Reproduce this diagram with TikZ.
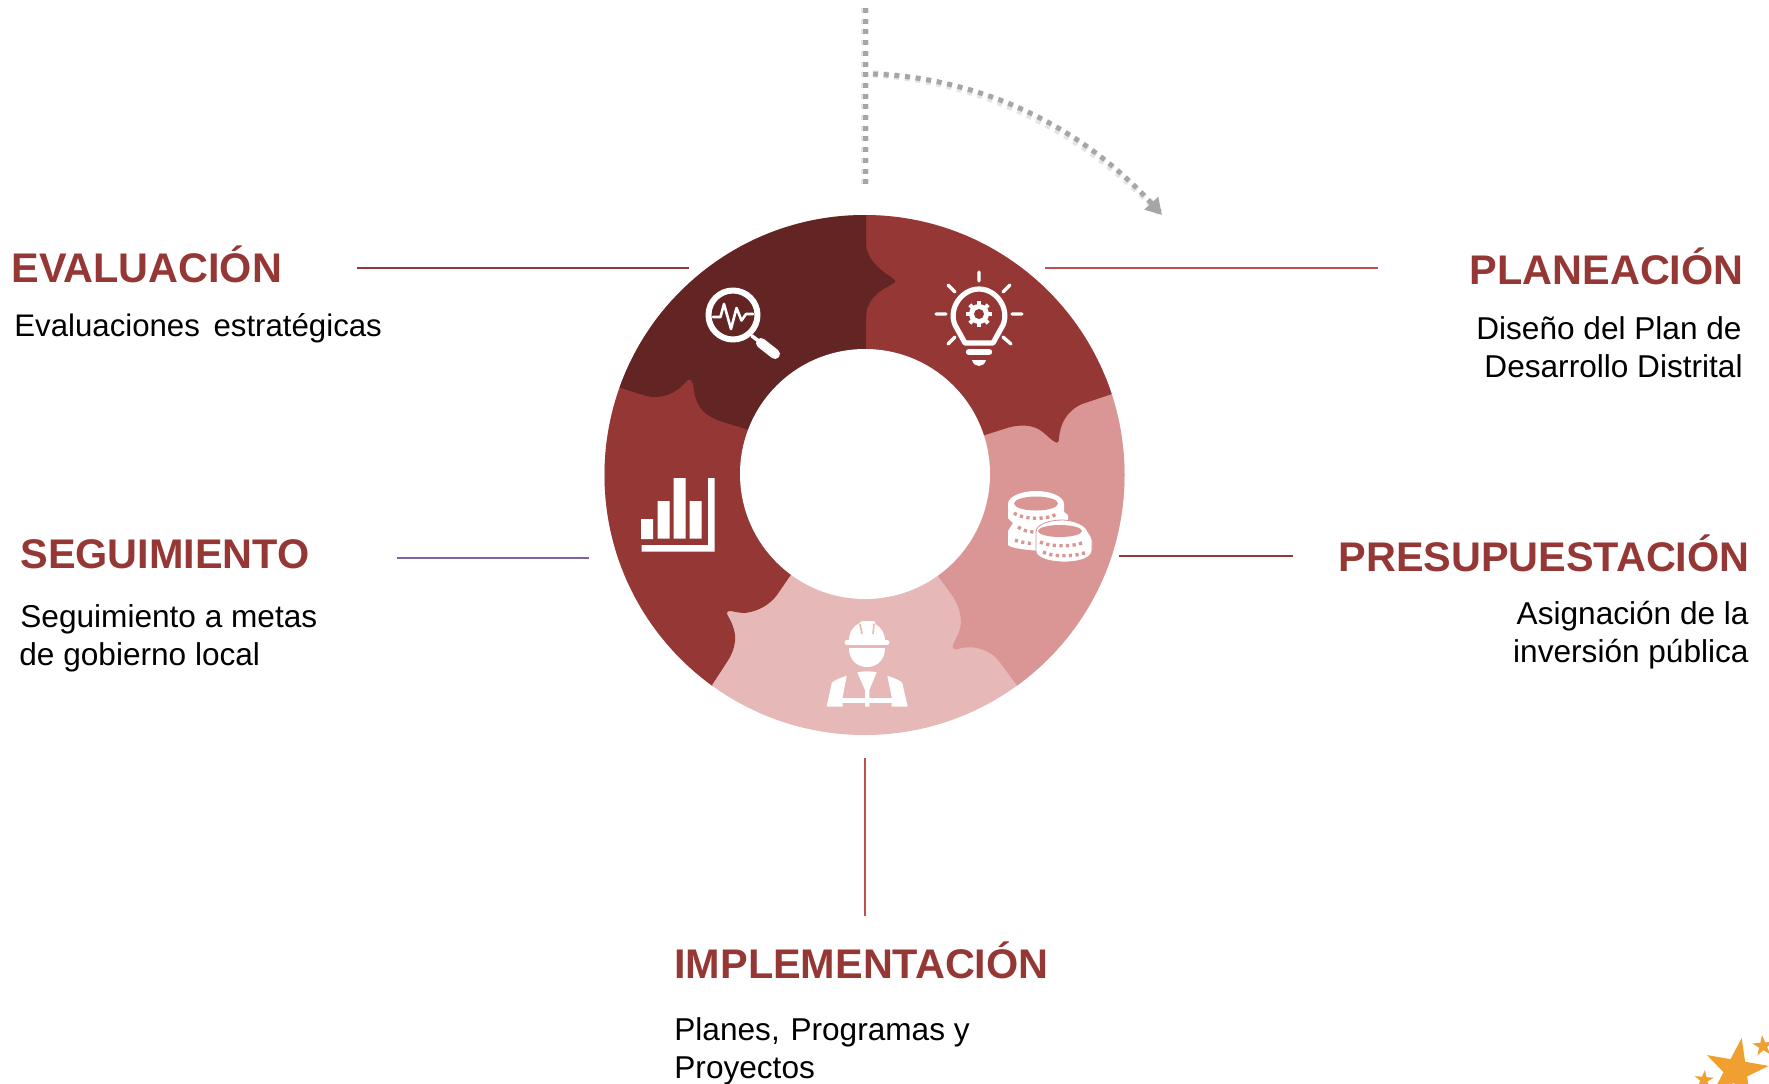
\documentclass[tikz,border=0pt]{standalone}
\usepackage{fontspec}
\setmainfont{Liberation Sans}
\usetikzlibrary{arrows.meta}
\definecolor{cdark}{HTML}{632523}
\definecolor{cmed}{HTML}{953735}
\definecolor{clight}{HTML}{D99694}
\definecolor{cpale}{HTML}{E6B9B8}
\definecolor{cline}{HTML}{C0504D}
\definecolor{cpurple}{HTML}{8064A2}
\definecolor{cgray}{HTML}{A6A6A6}
\definecolor{cstar}{HTML}{F0A030}
\tikzset{
  x=0.5pt,y=-0.5pt,
  heading/.style={font=\fontsize{20.7}{24}\selectfont\bfseries,text=cmed,inner sep=0pt},
  bodytext/.style={font=\fontsize{15.8}{19}\selectfont,text=black,inner sep=0pt},
  leader/.style={line width=0.75pt},
  dotline/.style={draw=cgray,line width=2.5pt,dash pattern=on 2.5pt off 2.85pt},
  dotshadow/.style={draw=black,opacity=0.10,line width=3.6pt,dash pattern=on 2.5pt off 2.85pt,shift={(1,3)}},
  iconline/.style={draw=white,line cap=round,line join=round},
}
\newcommand{\starshape}[4]{% cx cy R rotation
  \fill[cstar] ({#1+#3*cos(#4)},{#2-#3*sin(#4)})
  \foreach \k in {1,...,9}{
    -- ({#1+#3*(1-0.618*mod(\k,2))*cos(#4+36*\k)},{#2-#3*(1-0.618*mod(\k,2))*sin(#4+36*\k)})
  } -- cycle;}
\begin{document}
\begin{tikzpicture}
\useasboundingbox (0,0) rectangle (1769,1083);
\clip (0,0) rectangle (1769,1083);
% ---- ring
\coordinate (ctr) at (865,475);
\begin{scope}
\clip (864.5,475) circle[radius=260];
\fill[cpale] (864.5,475) circle[radius=262];
% presupuestacion
\fill[clight] (ctr) -- (938,576) .. controls (945,586) and (953,595) .. (957,604)
  .. controls (962,616) and (962,626) .. (958,634) -- (953,645)
  .. controls (952,649) and (955,650) .. (958,649)
  .. controls (970,645) and (983,648) .. (993,655)
  .. controls (1000,661) and (1005,670) .. (1017,685) -- (1090,790) -- (1300,790) -- (1300,300) -- cycle;
% planeacion
\fill[cmed] (ctr) -- (970,440) -- (985,435) -- (1007,428)
  .. controls (1020,424) and (1032,425) .. (1040,430)
  .. controls (1046,434) and (1051,440) .. (1055,442)
  .. controls (1058,444) and (1059,441) .. (1059,438)
  .. controls (1060,425) and (1066,411) .. (1082,404) -- (1112,394) -- (1300,340) -- (1300,100) -- (866,100) -- cycle;
% seguimiento
\fill[cmed] (ctr) -- (790,576) -- (777,595)
  .. controls (770,604) and (760,611) .. (745,613)
  .. controls (738,613) and (733,611) .. (730,611)
  .. controls (727,611) and (726,613) .. (728,616)
  .. controls (733,624) and (736,634) .. (735,641)
  .. controls (734,650) and (731,656) .. (727,662)
  -- (712,685) -- (714,689) -- (640,790) -- (400,790) -- (400,300) -- (720,300) -- cycle;
% evaluacion
\fill[cdark] (ctr) -- (746,429) -- (720,421)
  .. controls (708,417) and (696,409) .. (694,390)
  .. controls (693,382) and (691,378) .. (688,380)
  .. controls (682,385) and (676,396) .. (655,397)
  .. controls (646,397) and (638,393) .. (618,387)
  -- (500,350) -- (500,100) -- (866,100) -- (866,243)
  .. controls (866,258) and (878,268) .. (888,275)
  .. controls (892,278) and (896,280) .. (895,282)
  .. controls (893,285) and (880,289) .. (873,298)
  .. controls (868,304) and (866,310) .. (866,320) -- cycle;
\end{scope}
\fill[white] (865,474) circle[radius=125];
% ---- magnifier icon
\draw[iconline,line width=3pt] (733,315) circle[radius=24.5];
\draw[iconline,line width=1.8pt] (752,336) -- (760,342);
\draw[iconline,line width=5pt] (761,343) -- (775,354);
\draw[iconline,line width=1.3pt] (713,317) -- (720.5,317) -- (724,304) -- (731,329) -- (736.5,308) -- (741.5,320.5) -- (746,314) -- (753,314);
% ---- bulb icon
\begin{scope}
\draw[iconline,line width=1.7pt]
  (979,272) -- (979,281) (936,314) -- (946,314) (1012,314) -- (1022,314)
  (948,285) -- (955,292) (1010,285) -- (1003,292) (948,344) -- (955,337) (1011,344) -- (1003,337);
\draw[iconline,line width=2.6pt] (965,343) -- (955,325)
  .. controls (948,308) and (962,289) .. (979,289)
  .. controls (996,289) and (1010,308) .. (1003,325) -- (993,343) -- cycle;
\draw[iconline,line width=3.2pt] (969,352) -- (989,352);
\fill[white] (972,360) -- (986,360) .. controls (985,364) and (982,366) .. (979,366) .. controls (976,366) and (973,364) .. (972,360) -- cycle;
\fill[white] (979,314) circle[radius=10];
\foreach \a in {0,45,...,315}{\draw[white,line width=2pt] (979,314) ++(\a:9) -- ++(\a:4);}
\fill[cmed] (979,314) circle[radius=5];
\end{scope}
% ---- bars icon
\fill[white] (641,519) rectangle (653,539) (657.7,501) rectangle (669.7,538.5)
  (673.7,478) rectangle (685.7,538.5) (689.7,501) rectangle (701.7,538.5)
  (708,478) rectangle (714.7,551.7) (641.7,545) rectangle (714.7,551.7);
% ---- coins icon
\begin{scope}
\fill[white] (1008,504) -- (1008,518) -- (1013,523) -- (1008,531) -- (1008,545)
  .. controls (1012,549) and (1030,550) .. (1040,551)
  -- (1080,540) -- (1068,522) -- (1068,515) -- (1064,512) -- (1064,504) -- cycle;
\fill[white] (1036,504) circle[x radius=28,y radius=13];
\draw[clight,line width=1.7pt,dash pattern=on 1.6pt off 1.7pt] (1014,513) .. controls (1024,520) and (1050,520) .. (1058,513);
\draw[clight,line width=1.7pt,dash pattern=on 1.6pt off 1.7pt] (1018,527) .. controls (1022,530) and (1028,532) .. (1034,532);
\draw[clight,line width=1.7pt,dash pattern=on 1.6pt off 1.7pt] (1015,540) .. controls (1018,542) and (1028,543) .. (1034,544);
\fill[clight] (1036,503.5) circle[x radius=22,y radius=7];
% front coin
\fill[white,draw=clight,line width=0.4pt] (1036,532) -- (1036,552) .. controls (1037,558) and (1050,562) .. (1064,562)
  .. controls (1080,562) and (1092,558) .. (1092,550) -- (1092,540) .. controls (1091,534) and (1088,534) .. (1087,530)
  .. controls (1084,524) and (1072,520) .. (1062,520) .. controls (1050,520) and (1036,524) .. (1036,532) -- cycle;
\draw[clight,line width=1.7pt,dash pattern=on 1.6pt off 1.7pt] (1040,542) .. controls (1050,547) and (1075,547) .. (1084,542);
\draw[clight,line width=1.7pt,dash pattern=on 1.6pt off 1.7pt] (1043,552) .. controls (1052,557) and (1075,557) .. (1087,552);
\fill[clight] (1060,531) circle[x radius=22,y radius=6];
\end{scope}
% ---- worker icon
\begin{scope}
\fill[white] (849,641) .. controls (849,632) and (853,626) .. (860,623) .. controls (860,621) and (862,621) .. (864,621)
  -- (873,621) .. controls (875,621) and (876,622) .. (875,624) .. controls (881,627) and (885,633) .. (885,641) -- cycle;
\draw[cpale,line width=0.8pt] (860,624) -- (862,634) (874,624) -- (873,634);
\draw[white,line width=2.5pt,line cap=round] (847,642.5) -- (887,642.5);
\fill[white] (849,648) -- (885,648) .. controls (885,659) and (878,667) .. (867,667) .. controls (856,667) and (849,659) .. (849,648) -- cycle;
\fill[white] (857.3,672.3) .. controls (863,671) and (871,671) .. (876.7,672.3) -- (869.3,690) -- (869.3,706.7) -- (865,706.7) -- (865,690) -- cycle;
\fill[white] (826.7,706.7) -- (831.7,683.3) .. controls (832,681) and (840,678) .. (846.7,675.7) -- (842.7,697) -- (842.7,706.7) -- cycle;
\fill[white] (907.7,706.7) -- (902.3,683.3) .. controls (902,681) and (894,678) .. (887.3,675.7) -- (891.7,697) -- (891.7,706.7) -- cycle;
\fill[white] (842,698.3) rectangle (892,702.7);
\end{scope}
% ---- leaders
\coordinate (ea) at (357,268); \coordinate (eb) at (689,268);
\coordinate (pa) at (1045,268); \coordinate (pb) at (1378,268);
\coordinate (sa) at (397,558); \coordinate (sb) at (589,558);
\coordinate (ra) at (1119,556); \coordinate (rb) at (1293,556);
\coordinate (ia) at (865,758); \coordinate (ib) at (865,916);
\draw[leader,cmed] (ea) -- (eb);
\draw[leader,cline] (pa) -- (pb);
\draw[leader,cpurple] (sa) -- (sb);
\draw[leader,cmed] (ra) -- (rb);
\draw[leader,cline] (ia) -- (ib);
% ---- dotted arrow
\coordinate (va) at (865,8); \coordinate (vb) at (865,184);
\coordinate (ca) at (873,74); \coordinate (cb) at (1162,215);
\draw[dotshadow] (va) -- (vb);
\draw[dotshadow] (ca) .. controls (980,78) and (1080,125) .. (cb);
\draw[dotline] (va) -- (vb);
\draw[dotline,-{Triangle[length=8pt,width=9pt,fill=cgray]}] (ca) .. controls (980,78) and (1080,125) .. (cb);
% ---- text
\node[heading,anchor=base west] (evalh) at (11,282) {EVALUACIÓN};
\node[bodytext,anchor=base west,font=\fontsize{15.6}{19}\selectfont] (evalb) at (14,336) {Evaluaciones\hspace{2.5pt} estratégicas};
\node[heading,anchor=base east] (planh) at (1744,284) {PLANEACIÓN};
\node[bodytext,anchor=base east] (planb1) at (1742,339) {Diseño del Plan de};
\node[bodytext,anchor=base east] (planb2) at (1743,377) {Desarrollo Distrital};
\node[heading,anchor=base west] (segh) at (20,568) {SEGUIMIENTO};
\node[bodytext,anchor=base west] (segb1) at (20,627) {Seguimiento a metas};
\node[bodytext,anchor=base west] (segb2) at (19,665) {de gobierno local};
\node[heading,anchor=base east] (presh) at (1750,571) {PRESUPUESTACIÓN};
\node[bodytext,anchor=base east] (presb1) at (1749,624) {Asignación de la};
\node[bodytext,anchor=base east] (presb2) at (1749,662) {inversión pública};
\node[heading,anchor=base west] (imph) at (674,978) {IMPLEMENTACIÓN};
\node[bodytext,anchor=base west] (impb1) at (674,1040) {Planes,\hspace{1pt} Programas y};
\node[bodytext,anchor=base west] (impb2) at (674,1078) {Proyectos};
% ---- stars
\starshape{1736}{1070.5}{33}{80}
\starshape{1763}{1046}{11}{95}
\starshape{1704}{1080}{10}{85}
\end{tikzpicture}
\end{document}
